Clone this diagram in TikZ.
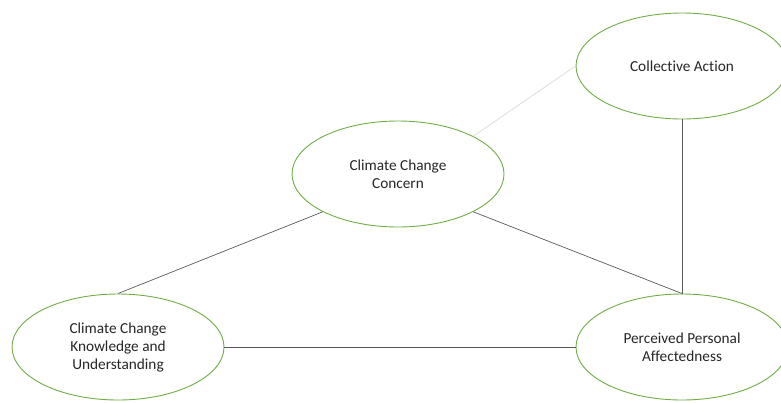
\documentclass[tikz,border=0pt]{standalone}
\usepackage{fontspec}
\setmainfont{Carlito}[Ligatures=NoCommon]
\usetikzlibrary{shapes.geometric}
\definecolor{ovalgreen}{HTML}{70AD47}
\definecolor{linkgray}{HTML}{595959}
\definecolor{fadegray}{HTML}{D9D9D9}

\begin{document}
\begin{tikzpicture}[x=1pt,y=-1pt,
    oval/.style={ellipse, draw=ovalgreen, line width=0.9pt, fill=white,
      minimum width=212pt, minimum height=106pt, inner sep=0pt,
      align=center, font=\fontsize{15.3}{18}\selectfont, text=black!85},
    link/.style={draw=linkgray, line width=0.7pt},
    faint/.style={draw=fadegray, line width=0.7pt}]
  \useasboundingbox (0,0) rectangle (781,402);

  \node[oval] (action) at (682,66) {Collective Action};
  \node[oval] (concern) at (398,174) {Climate Change\\Concern};
  \node[oval] (knowledge) at (118,347) {Climate Change\\Knowledge and\\Understanding};
  \node[oval] (affect) at (682,347) {Perceived Personal\\Affectedness};

  \draw[faint] (concern.north east) -- (action.west);
  \draw[link] (action.south) -- (affect.north);
  \draw[link] (concern.south east) -- (affect.north);
  \draw[link] (concern.south west) -- (knowledge.north);
  \draw[link] (knowledge.east) -- (affect.west);
\end{tikzpicture}
\end{document}
